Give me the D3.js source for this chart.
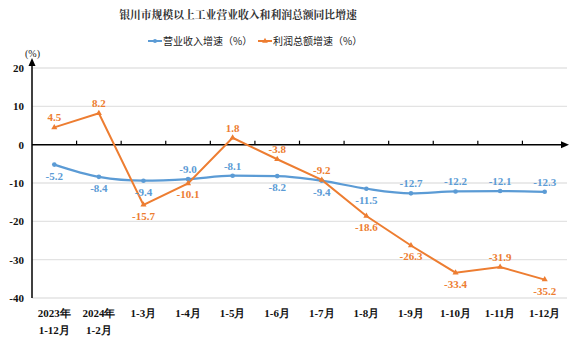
<!DOCTYPE html>
<html><head><meta charset="utf-8">
<script src="https://cdn.jsdelivr.net/npm/d3@7/dist/d3.min.js"></script>
<style>body{margin:0;background:#fff}svg{display:block}</style>
</head><body><svg id="c" width="585" height="358"></svg>
<script>
const categories = [["2023年","1-12月"],["2024年","1-2月"],["1-3月"],["1-4月"],["1-5月"],["1-6月"],["1-7月"],["1-8月"],["1-9月"],["1-10月"],["1-11月"],["1-12月"]];
const revenue = [-5.2,-8.4,-9.4,-9.0,-8.1,-8.2,-9.4,-11.5,-12.7,-12.2,-12.1,-12.3];
const profit = [4.5,8.2,-15.7,-10.1,1.8,-3.8,-9.2,-18.6,-26.3,-33.4,-31.9,-35.2];
const revenuePos = ["b","b","b","t","t","b","b","b","t","t","t","t"];
const profitPos = ["t","t","b","b","t","t","t","b","b","b","t","b"];
const yTicks = [20,10,0,-10,-20,-30,-40];
const title = "银川市规模以上工业营业收入和利润总额同比增速";
const seriesNames = ["营业收入增速（%）","利润总额增速（%）"];

const blue = "#5B9BD5", orange = "#ED7D31";
const svg = d3.select("#c");
const L = 32, R = 567, T = 68, B = 298;
const x = d3.scaleBand().domain(d3.range(categories.length)).range([L, R]);
const y = d3.scaleLinear().domain([-40, 20]).range([B, T]);
const serif = "'Liberation Serif','DejaVu Serif',serif";
const cjk = "'Noto Sans CJK SC',sans-serif";

// title
svg.append("text").attr("x", 238).attr("y", 19).attr("text-anchor", "middle")
  .attr("font-family", "'Noto Serif CJK SC','Noto Sans CJK SC',serif").attr("font-weight", "bold")
  .attr("font-size", 10.8).attr("fill", "#333").text(title);

// legend
const leg = [{c: blue, t: seriesNames[0], x: 148, m: "circle"}, {c: orange, t: seriesNames[1], x: 258, m: "tri"}];
leg.forEach(d => {
  svg.append("line").attr("x1", d.x).attr("x2", d.x + 14).attr("y1", 41).attr("y2", 41).attr("stroke", d.c).attr("stroke-width", 2);
  if (d.m === "circle") svg.append("circle").attr("cx", d.x + 7).attr("cy", 41).attr("r", 2).attr("fill", d.c);
  else svg.append("path").attr("d", d3.symbol(d3.symbolTriangle, 14)()).attr("transform", `translate(${d.x + 7},41)`).attr("fill", d.c);
  svg.append("text").attr("x", d.x + 15).attr("y", 45).attr("font-family", cjk).attr("font-size", 10).attr("fill", "#222").text(d.t);
});

svg.append("text").attr("x", 25).attr("y", 57).attr("font-family", serif).attr("font-size", 10).attr("fill", "#222").text("(%)");

// gridlines
svg.append("g").selectAll("line").data(yTicks.filter(v => v !== 0)).join("line")
  .attr("x1", L).attr("x2", R).attr("y1", d => y(d)).attr("y2", d => y(d))
  .attr("stroke", "#e3e3e3").attr("stroke-width", 1.3);

// y labels
svg.append("g").selectAll("text").data(yTicks).join("text")
  .attr("x", 24).attr("y", d => y(d) + 4).attr("text-anchor", "end")
  .attr("font-family", serif).attr("font-weight", "bold").attr("font-size", 11).attr("fill", "#111")
  .text(d => d);

// axes
svg.append("line").attr("x1", L).attr("x2", L).attr("y1", B).attr("y2", T - 4).attr("stroke", "#000").attr("stroke-width", 1.5);
svg.append("path").attr("d", `M${L - 3.5},${T - 2} L${L},${T - 10} L${L + 3.5},${T - 2} Z`).attr("fill", "#000");
svg.append("line").attr("x1", L).attr("x2", R - 2).attr("y1", y(0)).attr("y2", y(0)).attr("stroke", "#000").attr("stroke-width", 1.5);
svg.append("path").attr("d", `M${R - 6},${y(0) - 3.5} L${R + 2},${y(0)} L${R - 6},${y(0) + 3.5} Z`).attr("fill", "#000");
svg.append("g").selectAll("line").data(d3.range(1, categories.length)).join("line")
  .attr("x1", d => x(d)).attr("x2", d => x(d)).attr("y1", y(0)).attr("y2", y(0) - 4)
  .attr("stroke", "#000").attr("stroke-width", 1.2);

// x labels
const xl = svg.append("g").selectAll("text").data(categories).join("text")
  .attr("text-anchor", "middle").attr("font-family", serif).attr("font-weight", "bold").attr("font-size", 11).attr("fill", "#111");
xl.each(function(d, i) {
  const t = d3.select(this);
  d.forEach((s, j) => {
    t.append("tspan").attr("x", x(i) + x.bandwidth() / 2).attr("y", 317 + j * 17).text(s);
  });
});

const cx = i => x(i) + x.bandwidth() / 2;

// lines
svg.append("path").datum(revenue).attr("fill", "none").attr("stroke", blue).attr("stroke-width", 2.2)
  .attr("d", d3.line().x((d, i) => cx(i)).y(d => y(d)).curve(d3.curveMonotoneX));
svg.append("path").datum(profit).attr("fill", "none").attr("stroke", orange).attr("stroke-width", 2)
  .attr("d", d3.line().x((d, i) => cx(i)).y(d => y(d)));

svg.append("g").selectAll("circle").data(revenue).join("circle")
  .attr("cx", (d, i) => cx(i)).attr("cy", d => y(d)).attr("r", 2.3).attr("fill", blue);
svg.append("g").selectAll("path").data(profit).join("path")
  .attr("d", d3.symbol(d3.symbolTriangle, 16)()).attr("transform", (d, i) => `translate(${cx(i)},${y(d)})`).attr("fill", orange);

// data labels
function labels(data, pos, color) {
  svg.append("g").selectAll("text").data(data).join("text")
    .attr("x", (d, i) => cx(i)).attr("y", (d, i) => pos[i] === "t" ? y(d) - 6 : y(d) + 15)
    .attr("text-anchor", "middle").attr("font-family", serif).attr("font-weight", "bold").attr("font-size", 11)
    .attr("fill", color).text(d => d.toFixed(1));
}
labels(revenue, revenuePos, blue);
labels(profit, profitPos, orange);
</script></body></html>
